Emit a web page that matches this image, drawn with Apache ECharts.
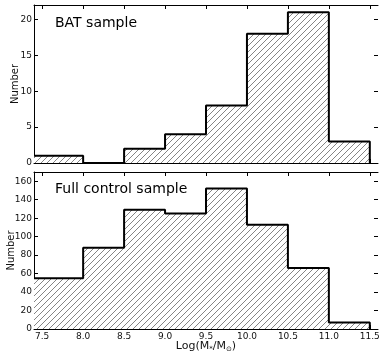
<!DOCTYPE html>
<html>
<head>
<meta charset="utf-8">
<script src="https://cdn.jsdelivr.net/npm/echarts@6/dist/echarts.min.js"></script>
<style>
  html, body { margin: 0; padding: 0; background: #fff; }
  #chart { width: 382px; height: 357px; }
</style>
</head>
<body>
<div id="chart"></div>
<script>
// bin edges on log stellar mass
const binEdges = [7.4, 8.0, 8.5, 9.0, 9.5, 10.0, 10.5, 11.0, 11.5];
const batCounts = [1, 0, 2, 4, 8, 18, 21, 3];
const controlCounts = [55, 88, 129, 125, 152, 113, 66, 7];
const xTicks = [7.5, 8.0, 8.5, 9.0, 9.5, 10.0, 10.5, 11.0, 11.5];
const batTicks = [0, 5, 10, 15, 20];
const controlTicks = [0, 20, 40, 60, 80, 100, 120, 140, 160];

// step outline points from bins
function steps(counts) {
  const pts = [];
  counts.forEach((c, i) => {
    pts.push([binEdges[i], c]);
    pts.push([binEdges[i + 1], c]);
  });
  pts.push([binEdges[binEdges.length - 1], 0]);
  return pts;
}

// hatch pattern ///
function hatch() {
  const s = 6;
  const c = document.createElement('canvas');
  c.width = s; c.height = s;
  const g = c.getContext('2d');
  g.fillStyle = '#fff';
  g.fillRect(0, 0, s, s);
  g.strokeStyle = '#666';
  g.lineWidth = 0.8;
  for (let k = -1; k <= 1; k++) {
    g.beginPath();
    g.moveTo(k * s, s);
    g.lineTo(k * s + s, 0);
    g.stroke();
  }
  return c;
}
const pattern = { image: hatch(), repeat: 'repeat' };

const font = 'DejaVu Sans';
const tickStyle = { show: true, inside: true, length: 4, lineStyle: { color: '#000', width: 1 } };

function xAxes(gridIndex, showLabel) {
  return [
    {
      type: 'value', gridIndex: gridIndex, min: 7.4, max: 11.6,
      axisLine: { show: true, onZero: false, lineStyle: { color: '#000', width: 1 } },
      axisTick: Object.assign({ customValues: xTicks }, tickStyle),
      axisLabel: {
        show: showLabel, customValues: xTicks, margin: 3,
        fontFamily: font, fontSize: 9, color: '#111',
        formatter: v => v.toFixed(1)
      },
      splitLine: { show: false },
      name: showLabel ? '{n|Log(M}{s|*}{n|/M}{s|\u2299}{n|)}' : '',
      nameLocation: 'middle', nameGap: 11, nameMoveOverlap: false,
      nameTextStyle: {
        rich: {
          n: { fontFamily: font, fontSize: 11, color: '#111' },
          s: { fontFamily: font, fontSize: 7, color: '#111', verticalAlign: 'bottom', padding: [6, 0, 0, 0] }
        }
      }
    },
    {
      type: 'value', gridIndex: gridIndex, min: 7.4, max: 11.6, position: 'top',
      axisLine: { show: true, onZero: false, lineStyle: { color: '#000', width: 1 } },
      axisTick: Object.assign({ customValues: xTicks }, tickStyle),
      axisLabel: { show: false },
      splitLine: { show: false }
    }
  ];
}

function yAxes(gridIndex, max, ticks, name, gap) {
  return [
    {
      type: 'value', gridIndex: gridIndex, min: 0, max: max,
      axisLine: { show: true, lineStyle: { color: '#000', width: 1 } },
      axisTick: Object.assign({ customValues: ticks }, tickStyle),
      axisLabel: { customValues: ticks, margin: 2, fontFamily: font, fontSize: 9, color: '#111' },
      splitLine: { show: false },
      name: name, nameLocation: 'middle', nameGap: gap, nameMoveOverlap: false,
      nameTextStyle: { fontFamily: font, fontSize: 10, color: '#111' }
    },
    {
      type: 'value', gridIndex: gridIndex, min: 0, max: max, position: 'right',
      axisLine: { show: false },
      axisTick: Object.assign({ customValues: ticks }, tickStyle),
      axisLabel: { show: false },
      splitLine: { show: false }
    }
  ];
}

function histSeries(idx, counts) {
  return {
    type: 'line', xAxisIndex: idx * 2, yAxisIndex: idx * 2,
    data: steps(counts), symbol: 'none', silent: true,
    lineStyle: { color: '#000', width: 2 },
    areaStyle: { color: pattern, opacity: 1 }
  };
}

const chart = echarts.init(document.getElementById('chart'), null, { renderer: 'canvas' });
chart.setOption({
  animation: false,
  backgroundColor: '#fff',
  grid: [
    { left: 34, right: 4, top: 5, height: 158, outerBoundsMode: 'none', containLabel: false },
    { left: 34, right: 4, top: 172, height: 157, outerBoundsMode: 'none', containLabel: false }
  ],
  title: [
    { text: 'BAT sample', left: 50, top: 11, textStyle: { fontFamily: font, fontSize: 14, fontWeight: 'normal', color: '#000' } },
    { text: 'Full control sample', left: 50, top: 177, textStyle: { fontFamily: font, fontSize: 14, fontWeight: 'normal', color: '#000' } }
  ],
  xAxis: xAxes(0, false).concat(xAxes(1, true)),
  yAxis: yAxes(0, 22, batTicks, 'Number', 14).concat(yAxes(1, 170, controlTicks, 'Number', 18)),
  series: [histSeries(0, batCounts), histSeries(1, controlCounts)]
});
</script>
</body>
</html>
